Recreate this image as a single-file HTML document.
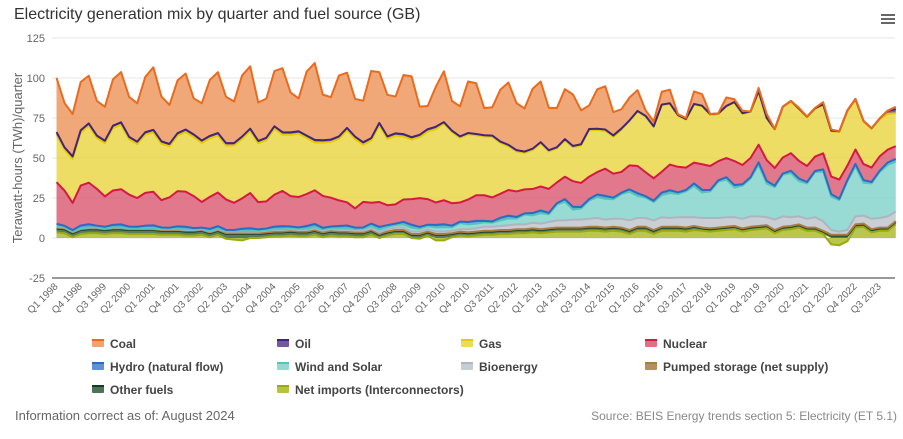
<!DOCTYPE html>
<html><head><meta charset="utf-8"><style>
body{margin:0;background:#fff;font-family:"Liberation Sans",sans-serif;}
#wrap{position:relative;width:903px;height:439px;overflow:hidden;}
</style></head><body>
<div id="wrap">
<svg id="chart" width="903" height="439" xmlns="http://www.w3.org/2000/svg">
<text x="14" y="19" font-size="16" fill="#333" font-family="Liberation Sans, sans-serif">Electricity generation mix by quarter and fuel source (GB)</text>
<g>
<rect x="880" y="12" width="16" height="16" fill="#fff"/>
<rect x="881" y="14" width="14" height="2" fill="#666"/><rect x="881" y="18" width="14" height="2" fill="#666"/><rect x="881" y="22" width="14" height="2" fill="#666"/>
</g>
<text transform="translate(22,158) rotate(-90)" text-anchor="middle" font-size="13" fill="#666">Terawatt-hours (TWh)/quarter</text>
<g id="grid"></g><g id="areas"></g><g id="lines"></g><g id="xlabels"></g><g id="legend"></g>
<text x="15" y="420" font-size="13" fill="#666">Information correct as of: August 2024</text>
<text x="897" y="420" text-anchor="end" font-size="12" fill="#888">Source: BEIS Energy trends section 5: Electricity (ET 5.1)</text>
</svg></div>
<script>
const yTicks=[-25,0,25,50,75,100,125];
const coal=[33.9,27.7,26.5,30.2,29.8,21.7,21.2,29,31.4,25,24,34.6,39.1,28,24.4,33,35,22.6,23.3,35,38,29,26,38.2,39,24,24.5,34.5,40,25,20.5,40,48,28.5,26.5,38,34.5,23.6,26,42,31.8,26,23,37,38,17.6,14.5,25,31.8,18.6,18.7,32.2,31.7,17,17.7,32.4,39,29.4,27,37.5,37.9,26.5,24.5,31.2,32.2,21.2,14.7,24.6,27,14.6,12,14.3,13,3.5,3,8,8.5,0.5,0.6,7.8,7.2,0,0.1,5.3,1.7,1.5,0,2,2.5,0,0,0,0.5,0.1,0.3,1.3,0.7,0,0,0,0,0,0,0,1.5];
const oil=[1.5,1.5,1.5,1.5,1.5,1.5,1.5,1.5,1.5,1.5,1.5,1.5,1.5,1.5,1.5,1.5,1.5,1.5,1.5,1.5,1.5,1.5,1.5,1.5,1.5,1.5,1.5,1.5,1.5,1.5,1.5,1.5,1.5,1.5,1.5,1.5,1.5,1.5,1.5,1.5,1.5,1.5,1.5,1.5,1.5,1.5,1.5,1.5,0.8,0.8,0.8,0.8,0.8,0.8,0.8,0.8,0.8,0.8,0.8,0.8,0.8,0.8,0.8,0.8,0.8,0.8,0.8,0.8,0.8,0.8,0.8,0.4,0.4,0.4,0.4,0.4,0.4,0.4,0.4,0.4,0.4,0.4,0.4,0.4,0.4,0.4,0.4,0.4,0.4,0.4,0.4,0.4,0.4,0.4,0.4,0.4,0.4,0.4,0.4,0.4,0.4,0.4,0.4,2,2.5];
const gas=[29.8,25.5,27.6,33,35.5,31.8,33.3,39,40.3,34.6,33.7,36.4,37.2,35.3,31.9,34.7,37.3,37,36.9,36.6,35.7,33.7,35.8,37.1,38.7,36.8,38.2,41.2,35.2,38.3,39.6,35,30,33.3,34.8,38.5,45,43.3,35.7,38.9,47.9,41.5,42.9,39.3,37.2,38.1,42.2,45.8,48,44.6,40.5,40.8,37.5,36.7,37.8,31.9,27.4,25,22.8,24.4,26.9,23.4,21.2,22.7,21.2,23.4,29,26.3,23.7,23.1,26.3,27.7,34,34.8,32.1,41.6,37.9,32,30,36.3,36.2,32,29.4,32.1,36.5,32,28.7,33.1,26,24,31.4,32.3,32.3,30.4,29.8,30.3,28.3,29.8,34.1,31.2,26.6,24.2,23.3,22.4,20.6];
const nuclear=[26,22,17,25,26,23,19,21.5,22,20,18,20.5,21,17,19,22,22,20,16,20,21,19,17,19,22,17,17,20,22,19,19,20,21,20,18,16,14.5,12,16,13,15.5,12.5,12,14,16,18,16,14,15,14,12,14,16,16,15,15,16,16,15,15,15,15,13,14,16,15,14,14,17,15,13,15,17,15,14,13,16,16,14,13,16,15,12,12,15,12,12,11,13,11,10,11,11,10,9,10,11,12,9,9,10,9,9,8,8];
const hydro=[1.8,1,0.8,1.7,2,1.1,0.9,1.6,1.9,1,0.8,1.5,1.7,0.9,0.7,1.6,1.8,1,0.8,1.5,1.6,0.8,0.7,1.4,1.7,1,0.9,1.6,1.8,1.1,0.9,1.7,1.9,1,0.8,1.5,1.6,0.9,0.8,1.5,1.8,1,0.9,1.6,1.9,1.1,0.9,1.6,1.8,1,0.8,1.5,1.7,0.9,0.8,1.6,1.8,1,0.8,1.5,1.7,0.9,0.8,1.6,1.8,1,0.9,1.7,1.8,1,0.8,1.5,1.7,0.9,0.8,1.6,1.8,1,0.8,1.6,1.7,0.9,0.8,1.5,1.6,0.9,0.8,1.6,1.7,0.9,0.8,1.5,1.7,0.9,0.7,1.4,1.6,0.8,0.8,1.6,1.7,0.9,0.8,1.5,1.6];
const wind=[0.1,0.1,0.1,0.1,0.1,0.1,0.1,0.1,0.1,0.1,0.2,0.2,0.2,0.2,0.2,0.2,0.2,0.2,0.2,0.2,0.3,0.3,0.3,0.4,0.4,0.4,0.5,0.5,0.6,0.6,0.7,0.8,0.9,0.8,0.9,1,1.2,1.1,1.3,1.5,1.7,1.5,1.6,2,2.4,1.8,1.9,2.6,2.8,2.2,3.9,3,3,2.8,2.6,3.5,4.2,3.6,6.1,4.6,6.5,4.8,9.9,11.7,6.2,6.9,11.4,13,13,12.2,15.5,17.9,13.8,12.7,11.5,13.8,15.6,14.5,16.2,19.5,15.9,16.6,22.7,23.5,18.5,20.7,23.7,32.2,21,20.3,26,27.5,22,22.1,28.2,31,20.8,19.7,30.4,31.2,20.5,22.1,28.7,32.2,31.3];
const bioenergy=[0.5,0.5,0.5,0.5,0.5,0.5,0.5,0.5,0.5,0.5,0.5,0.5,0.5,0.5,0.5,0.5,0.5,0.5,0.5,0.5,0.5,1,1,1,1,1,1,1,1,1,1,1,1,1,1,1,1,1,1,1,1,1.5,1.5,1.5,1.5,1.5,1.5,1.5,1.5,1.5,1.5,2,2,2.5,2.5,2.5,3,3,3,3.5,3.5,4,4.5,4.5,5,5,5,5.5,5,5,5.5,6,5.5,5.5,6,6,5.5,6,6.5,5.5,6,6.5,6,6,5.5,6,6.5,6,5,6.5,6.5,5.5,5,5.5,6.5,6,3,2,3,5,5,6.5,6,7,6];
const pumped=[0.5,0.5,0.5,0.5,0.5,0.5,0.5,0.5,0.5,0.5,0.5,0.5,0.5,0.5,0.5,0.5,0.5,0.5,0.5,0.5,0.5,0.5,0.5,0.5,0.5,0.5,0.5,0.5,0.5,0.5,0.5,0.5,0.5,0.5,0.5,0.5,0.5,0.5,0.5,0.5,0.5,0.5,0.5,0.5,0.5,0.5,0.5,0.5,0.5,0.5,0.5,0.5,0.5,0.5,0.5,0.5,0.5,0.5,0.5,0.5,0.5,0.5,0.5,0.5,0.5,0.5,0.5,0.5,0.5,0.5,0.5,0.5,0.5,0.5,0.5,0.5,0.5,0.5,0.5,0.5,0.5,0.5,0.5,0.5,0.5,0.5,0.5,0.5,0.5,0.5,0.5,0.5,0.5,0.5,0.5,0.5,0.5,0.5,0.5,0.5,0.5,0.5,0.5,0.5,0.5];
const otherFuels=[2.5,2.5,2.5,2.5,2.5,2.5,2.5,2.5,2.5,2.5,2.5,2.5,2.5,2.5,2.5,2.5,2.5,2.5,2.5,2.5,2.5,2.5,2.5,2.5,2.5,2.5,2.5,2.5,2.5,2.5,2.5,2.5,2.5,2.5,2.5,2.5,2.5,2.5,2.5,2.5,2,2,2,2,2,2,2,2,2,2,2,2,2,2,2,2,2,2,2,2,2,2,2,2,2,2,2,2,2,2,2,2,2,2,2,2,2,2,2,2,1.5,1.5,1.5,1.5,1.5,1.5,1.5,1.5,1.5,1.5,1.5,1.5,1.5,1.5,1.5,1.5,1.5,1.5,1.5,1.5,1.5,1.5,1.5,1.5,1.5];
const netImports=[3.5,3,0.5,2.5,3,3,2.5,3,3,2.5,2.5,2.5,2.5,2,2,2,1.5,1.5,2,0.5,2,-0.5,-1,-1.5,0,0,0.5,1,1,1.5,1,1,2,0.5,1.5,1,1,0.5,0.5,2,0,1.5,2.5,2.5,0,-0.5,1.5,-1.5,-1.5,0.5,1.5,1,1.5,2,2,2.5,2.5,3,3,3.5,3,3.5,4,4,4,4,4.5,4.5,4,4.5,4,2.5,4.5,4.5,2.5,4.5,4.5,4.5,4,5,4.5,4,4.5,5,5.5,4,5,5.5,6,3,5,5.5,6.5,4.5,4.5,2.5,-4,-4.5,-2,6.5,7,3.5,4.5,4.5,8.5];

const NS='http://www.w3.org/2000/svg';
const svg=document.getElementById('chart');
const X0=56.5, DX=8.07, Y0=238, PY=1.6, XL=52, XR=895;
const xAt=i=>X0+i*DX;
const yAt=v=>Y0-v*PY;
function mk(tag,attrs,parent){const e=document.createElementNS(NS,tag);for(const k in attrs)e.setAttribute(k,attrs[k]);parent.appendChild(e);return e;}

const grid=document.getElementById('grid');
yTicks.forEach(t=>{
  const l=mk('line',{x1:XL,x2:XR,y1:yAt(t),y2:yAt(t),stroke:t===-25?'#999':'#e6e6e6','stroke-width':t===-25?2:1},grid);
  
  
  const tx=mk('text',{x:45,y:yAt(t)+4,'text-anchor':'end','font-size':11,fill:'#666'},grid);
  tx.textContent=String(t);
  
  
});

const xl=document.getElementById('xlabels');
const N=coal.length;
for(let i=0;i<N;i+=3){
  const yr=1998+Math.floor(i/4), q=i%4+1;
  const x=xAt(i)+2, y=287;
  const t=mk('text',{x:x,y:y,'text-anchor':'end','font-size':10,fill:'#666',transform:`rotate(-45 ${x} ${y})`},xl);
  t.textContent='Q'+q+' '+yr;
  
  
}

const series=[
 {name:'net-imports',label:'Net imports (Interconnectors)',data:netImports,fill:'#a9b820',line:'#9aab10'},
 {name:'other-fuels',label:'Other fuels',data:otherFuels,fill:'#2e5a3a',line:'#123d22'},
 {name:'pumped-storage',label:'Pumped storage (net supply)',data:pumped,fill:'#a97c40',line:'#a97c40'},
 {name:'bioenergy',label:'Bioenergy',data:bioenergy,fill:'#bdc3cb',line:'#aeb5bf'},
 {name:'wind-and-solar',label:'Wind and Solar',data:wind,fill:'#7ed2c9',line:'#55c5ba'},
 {name:'hydro',label:'Hydro (natural flow)',data:hydro,fill:'#3f7fcf',line:'#2a6cc2'},
 {name:'nuclear',label:'Nuclear',data:nuclear,fill:'#d9566f',line:'#d41a44'},
 {name:'gas',label:'Gas',data:gas,fill:'#e9d53f',line:'#e5cb00'},
 {name:'oil',label:'Oil',data:oil,fill:'#5a3b8c',line:'#40257a'},
 {name:'coal',label:'Coal',data:coal,fill:'#ee9257',line:'#ea6a1e'}
];
const posBase=new Array(N).fill(0), negBase=new Array(N).fill(0);
const areas=document.getElementById('areas'), lines=document.getElementById('lines');
series.forEach(s=>{
  const lo=[],hi=[];
  for(let i=0;i<N;i++){
    const v=s.data[i];
    if(v>=0){lo.push(posBase[i]);posBase[i]+=v;hi.push(posBase[i]);}
    else{lo.push(negBase[i]);negBase[i]+=v;hi.push(negBase[i]);}
  }
  let d='';
  for(let i=0;i<N;i++)d+=(i?'L':'M')+xAt(i).toFixed(2)+','+yAt(hi[i]).toFixed(2);
  for(let i=N-1;i>=0;i--)d+='L'+xAt(i).toFixed(2)+','+yAt(lo[i]).toFixed(2);
  const a=mk('path',{d:d+'Z',fill:s.fill,'fill-opacity':0.8,stroke:'none'},areas);
  
  
  let ld='';
  for(let i=0;i<N;i++)ld+=(i?'L':'M')+xAt(i).toFixed(2)+','+yAt(hi[i]).toFixed(2);
  const ln=mk('path',{d:ld,fill:'none',stroke:s.line,'stroke-width':2,'stroke-linejoin':'round'},lines);
  
  
});

const leg=document.getElementById('legend');
const legOrder=['coal','oil','gas','nuclear','hydro','wind-and-solar','bioenergy','pumped-storage','other-fuels','net-imports'];
const colX=[92,277,461,645], rowY=[344,367,390];
legOrder.forEach((n,k)=>{
  const s=series.find(z=>z.name===n);
  const x=colX[k%4], y=rowY[Math.floor(k/4)];
  const g=mk('g',{},leg);
  
  
  mk('rect',{x:x,y:y-4,width:12,height:7,rx:1,fill:s.fill,'fill-opacity':0.85},g);
  mk('rect',{x:x,y:y-5,width:12,height:2,fill:s.line},g);
  const t=mk('text',{x:x+18,y:y+4,'font-size':12,'font-weight':'bold',fill:'#444'},g);
  t.textContent=s.label;
});
</script>
</body></html>
